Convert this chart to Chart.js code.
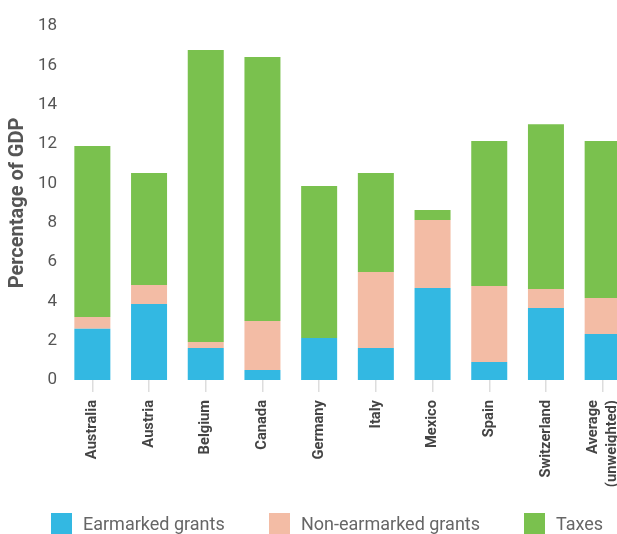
<!DOCTYPE html>
<html>
<head>
<meta charset="utf-8">
<script src="https://cdn.jsdelivr.net/npm/chart.js@4.4.1/dist/chart.umd.min.js"></script>
<style>
  html, body { margin: 0; padding: 0; background: #fff; overflow: hidden; }
  #wrap { position: relative; width: 631px; height: 534px; }
  #legend { position: absolute; left: 0; top: 513px; height: 21px; display: flex;
            font-family: Roboto, sans-serif; font-size: 18px; color: #666; }
  #legend .item { position: absolute; top: 0; display: flex; align-items: center; white-space: nowrap; }
  #legend .box { width: 21px; height: 21px; margin-right: 11px; }
</style>
</head>
<body>
<div id="wrap">
  <canvas id="chart" width="631" height="534"></canvas>
  <div id="legend"></div>
</div>
<script>
// Sub-national revenue by source, % of GDP
const countries = ["Australia", "Austria", "Belgium", "Canada", "Germany", "Italy",
                   "Mexico", "Spain", "Switzerland", ["Average", "(unweighted)"]];
const earmarked    = [2.6, 3.86, 1.63, 0.51, 2.14, 1.63, 4.68, 0.92, 3.66, 2.34];
const nonEarmarked = [0.6, 0.97, 0.30, 2.49, 0.00, 3.86, 3.45, 3.86, 0.97, 1.83];
const taxes        = [8.7, 5.69, 14.85, 13.42, 7.72, 5.03, 0.51, 7.37, 8.38, 7.98];
const seriesNames  = ["Earmarked grants", "Non-earmarked grants", "Taxes"];
const seriesColors = ["#33b8e2", "#f3bca5", "#7ac14e"];
const yTicks = [0, 2, 4, 6, 8, 10, 12, 14, 16, 18];

const values = [earmarked, nonEarmarked, taxes];

// centre multi-line rotated category labels on their tick
const centreLabelBlocks = {
  id: "centreLabelBlocks",
  beforeDraw(chart) {
    const scale = chart.scales.x;
    const items = scale.getLabelItems();
    items.forEach(item => {
      const lines = Array.isArray(item.label) ? item.label.length : 1;
      if (lines > 1 && !item._centred) {
        const lh = item.font.lineHeight;
        item.options.translation[0] -= (lines - 1) * lh / 2;
        item._centred = true;
      }
    });
  }
};

const chart = new Chart(document.getElementById("chart"), {
  type: "bar",
  data: {
    labels: countries,
    datasets: seriesNames.map((name, i) => ({
      label: name,
      data: values[i],
      backgroundColor: seriesColors[i],
      borderWidth: 0,
      categoryPercentage: 1,
      barPercentage: 0.635
    }))
  },
  plugins: [centreLabelBlocks],
  options: {
    responsive: false,
    animation: false,
    layout: { padding: { top: 26, right: 0, bottom: 0, left: 0 } },
    plugins: { legend: { display: false }, tooltip: { enabled: false } },
    scales: {
      x: {
        stacked: true,
        grid: { display: true, offset: false, drawOnChartArea: false, drawTicks: true,
                tickLength: 12, color: "#dddddd", lineWidth: 1.5 },
        border: { display: false },
        ticks: {
          minRotation: 90, maxRotation: 90, autoSkip: false, padding: 8,
          color: "#444", font: { family: "Roboto", size: 14.7, weight: "bold", lineHeight: 1.3 }
        },
        afterFit: s => { s.height = 154; s.paddingLeft = 0; s.paddingRight = 0; }
      },
      y: {
        stacked: true,
        min: 0, max: 18,
        afterBuildTicks: s => { s.ticks = yTicks.map(v => ({ value: v })); },
        grid: { display: false, drawTicks: false },
        border: { display: false },
        ticks: { padding: 7, color: "#555", font: { family: "Roboto", size: 17 } },
        title: {
          display: true, text: "Percentage of GDP", color: "#555",
          font: { family: "Roboto", size: 20, weight: "bold" },
          padding: { top: 6, bottom: 0 }
        },
        afterFit: s => { s.width = 64; }
      }
    }
  }
});

// legend placed below the axis labels
const legendPos = [51, 269, 524];
const legend = document.getElementById("legend");
chart.data.datasets.forEach((ds, i) => {
  const item = document.createElement("div");
  item.className = "item";
  item.style.left = legendPos[i] + "px";
  const box = document.createElement("span");
  box.className = "box";
  box.style.background = ds.backgroundColor;
  const txt = document.createElement("span");
  txt.textContent = ds.label;
  item.appendChild(box);
  item.appendChild(txt);
  legend.appendChild(item);
});
</script>
</body>
</html>
